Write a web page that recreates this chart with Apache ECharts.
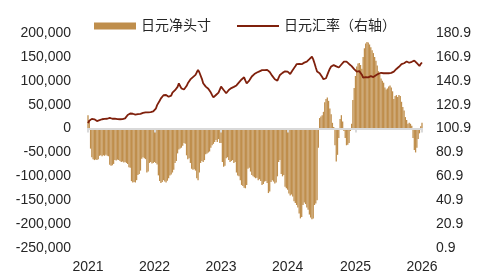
<!DOCTYPE html>
<html>
<head>
<meta charset="utf-8">
<script src="https://cdn.jsdelivr.net/npm/echarts@6/dist/echarts.min.js"></script>
<style>
  html, body { margin: 0; padding: 0; background: #fff; }
  #chart { width: 485px; height: 279px; }
</style>
</head>
<body>
<div id="chart"></div>
<script>
// 日元净头寸（周度，合约数）
const net2021 = [28000,18000,-42000,-60000,-64000,-66000,-65000,-66000,-64000,-57000,
  -56000,-58000,-56000,-57000,-55000,-57000,-58000,-76000,-78000,-77000,
  -74000,-66000,-67000,-65000,-66000,-68000,-70000,-69000,-71000,-70000,
  -72000,-74000,-81000,-82000,-110000,-113000,-112000,-113000,-108000,-97000,
  -95000,-88000,-63000,-60000,-62000,-64000,-92000,-90000,-72000,-70000,
  -73000,-72000];
const net2022 = [-70000,-72000,-75000,-98000,-110000,-114000,-112000,-108000,-111000,-113000,
  -109000,-104000,-98000,-96000,-92000,-86000,-72000,-68000,-52000,-44000,
  -42000,-40000,-36000,-30000,-32000,-56000,-64000,-62000,-72000,-84000,
  -86000,-85000,-88000,-104000,-108000,-92000,-72000,-68000,-70000,-66000,
  -54000,-52000,-50000,-48000,-40000,-35000,-32000,-28000,-24000,-28000,
  -22000,-30000];
const net2023 = [-30000,-70000,-80000,-78000,-62000,-60000,-66000,-70000,-68000,-66000,
  -72000,-70000,-92000,-98000,-100000,-108000,-118000,-120000,-124000,-125000,
  -118000,-84000,-82000,-90000,-97000,-100000,-102000,-104000,-103000,-108000,
  -106000,-110000,-118000,-116000,-111000,-110000,-114000,-135000,-132000,-112000,
  -108000,-111000,-115000,-113000,-100000,-70000,-66000,-95000,-100000,-97000,
  -122000,-125000];
const net2024 = [-128000,-136000,-140000,-138000,-142000,-152000,-156000,-160000,-165000,-178000,
  -188000,-185000,-160000,-155000,-158000,-165000,-170000,-180000,-186000,-190000,
  -188000,-160000,-157000,-150000,-40000,22000,25000,28000,35000,55000,
  62000,65000,58000,42000,30000,12000,3000,-35000,-69000,-55000,
  -20000,20000,28000,15000,-5000,-20000,-35000,-34000,-30000,-5000,
  10000,60000,85000];
const net2025 = [110000,130000,136000,137000,133000,125000,150000,168000,178000,181000,
  180000,176000,170000,164000,158000,150000,142000,132000,120000,115000,
  105000,100000,96000,86000,82000,84000,88000,90000,86000,78000,
  62000,68000,70000,66000,70000,68000,56000,45000,38000,24000,
  18000,10000,12000,10000,6000,-20000,-45000,-50000,-40000,-22000,
  -10000,5000,12000];

// 日元汇率（右轴）
const rate2021 = [105.5,107.5,108.5,109.0,109.3,108.6,107.6,107.2,107.6,107.9,
  108.3,108.7,108.8,109.0,109.3,109.1,109.5,109.8,109.4,109.1,
  109.0,109.2,109.0,108.8,108.9,108.7,108.6,108.8,108.7,109.4,
  110.7,112.2,113.4,113.5,113.1,113.3,112.9,112.6,112.7,113.0,
  113.4,113.2,113.8,114.0,113.7,114.5,114.8,114.4,114.8,114.6,
  115.0,115.2];
const rate2022 = [115.5,117.5,120.5,122.0,124.2,126.2,127.6,128.8,129.8,129.0,
  128.4,127.5,126.2,128.5,131.0,131.7,133.0,134.5,135.8,138.8,
  136.5,134.5,133.8,133.6,134.2,136.5,138.8,140.2,142.0,143.0,
  144.0,144.8,145.8,148.0,150.0,148.0,147.2,142.5,138.8,137.8,
  136.0,135.0,134.2,133.2,131.0,128.8,127.0,128.2,129.0,130.0,
  131.0,133.5];
const rate2023 = [136.0,134.5,133.2,131.8,130.4,131.5,133.2,134.2,134.8,135.4,
  135.8,136.0,137.0,138.4,139.6,140.8,142.0,142.8,143.8,141.0,
  138.8,139.8,141.0,142.8,144.5,145.8,146.5,147.2,147.8,148.0,
  148.8,149.5,149.8,150.0,149.9,150.0,150.0,149.3,148.2,146.6,
  145.0,143.5,142.2,141.5,141.0,143.5,145.8,147.0,147.5,148.2,
  148.8,149.5];
const rate2024 = [148.5,147.5,146.6,148.0,150.0,151.4,153.0,154.8,156.1,155.0,
  153.5,154.8,155.6,156.1,156.5,156.9,157.5,159.0,160.5,161.2,
  158.8,155.6,152.0,148.6,148.0,147.2,146.0,144.0,142.2,141.0,
  143.0,145.8,148.5,151.0,152.8,153.5,154.0,154.2,153.0,151.4,
  152.0,152.8,154.5,156.0,157.0,157.2,157.0,156.0,155.0,154.2,
  153.2,152.0,150.6];
const rate2025 = [149.8,148.6,148.2,149.0,148.8,146.0,143.5,143.0,144.0,144.4,
  143.8,144.6,144.8,144.2,144.0,144.8,145.5,145.8,146.8,147.9,
  147.6,147.4,147.2,147.0,147.3,147.0,147.2,147.0,147.5,148.2,
  148.6,149.8,150.8,151.4,152.6,154.2,154.8,155.2,155.6,156.2,
  157.0,156.8,156.0,156.0,156.8,157.6,157.8,156.8,155.6,154.5,
  153.3,155.0,156.2];

const netPosition = [].concat(net2021, net2022, net2023, net2024, net2025);
const jpyRate = [].concat(rate2021, rate2022, rate2023, rate2024, rate2025);

// 周度日期（每周二）
const weeks = [];
for (let i = 0; i < netPosition.length; i++) {
  const d = new Date(Date.UTC(2021, 0, 5) + i * 7 * 86400000);
  weeks.push(d.toISOString().slice(0, 10));
}
const isYearStart = (i) => i === 0 || weeks[i].slice(0, 4) !== weeks[i - 1].slice(0, 4);

const font = "'Liberation Sans', 'Noto Sans CJK SC', sans-serif";
const textColor = '#262626';
const barColor = '#BF8E4C';
const lineColor = '#7F200C';

const chart = echarts.init(document.getElementById('chart'));
chart.setOption({
  animation: false,
  aria: { enabled: false, decal: { show: false } },
  legend: {
    left: 94,
    top: 19,
    padding: 0,
    itemGap: 25,
    itemWidth: 42,
    itemHeight: 7,
    textStyle: { fontSize: 14, color: textColor, fontFamily: font },
    data: [
      { name: '日元净头寸', icon: 'rect', itemStyle: { borderWidth: 0 } },
      { name: '日元汇率（右轴）', itemStyle: { opacity: 0 }, lineStyle: { color: lineColor, width: 2 } }
    ]
  },
  grid: { left: 88, right: 63, top: 33, bottom: 31 },
  xAxis: [
    {
      type: 'category',
      data: weeks,
      boundaryGap: false,
      z: 5,
      axisLine: { lineStyle: { color: '#D9D9D9', width: 2 } },
      axisTick: {
        show: true,
        interval: isYearStart,
        length: 4,
        lineStyle: { color: '#D9D9D9', width: 2 }
      },
      axisLabel: { show: false },
      splitLine: { show: false }
    },
    {
      type: 'category',
      data: weeks,
      position: 'bottom',
      boundaryGap: false,
      axisLine: { show: false, onZero: false },
      axisTick: { show: false },
      axisLabel: {
        interval: isYearStart,
        formatter: (v) => v.slice(0, 4),
        fontSize: 14,
        color: textColor,
        fontFamily: font,
        margin: 12
      },
      splitLine: { show: false }
    }
  ],
  yAxis: [
    {
      type: 'value',
      min: -250000,
      max: 200000,
      interval: 50000,
      splitLine: { show: false },
      axisLine: { show: false },
      axisTick: { show: false },
      axisLabel: {
        fontSize: 14,
        color: textColor,
        fontFamily: font,
        margin: 17,
        formatter: (v) => v.toLocaleString('en-US')
      }
    },
    {
      type: 'value',
      min: 0.9,
      max: 180.9,
      interval: 20,
      splitLine: { show: false },
      axisLine: { show: false },
      axisTick: { show: false },
      axisLabel: {
        fontSize: 14,
        color: textColor,
        fontFamily: font,
        margin: 14,
        formatter: (v) => v.toFixed(1)
      }
    }
  ],
  series: [
    {
      name: '日元净头寸',
      type: 'bar',
      data: netPosition,
      barWidth: '100%',
      // 描边加宽柱子，消除相邻细柱之间的白缝
      itemStyle: { color: barColor, borderWidth: 1.2, borderColor: barColor },
      z: 2
    },
    {
      name: '日元汇率（右轴）',
      type: 'line',
      yAxisIndex: 1,
      data: jpyRate,
      symbol: 'none',
      lineStyle: { color: lineColor, width: 1.8 },
      itemStyle: { color: lineColor },
      z: 3
    }
  ]
});
</script>
</body>
</html>
